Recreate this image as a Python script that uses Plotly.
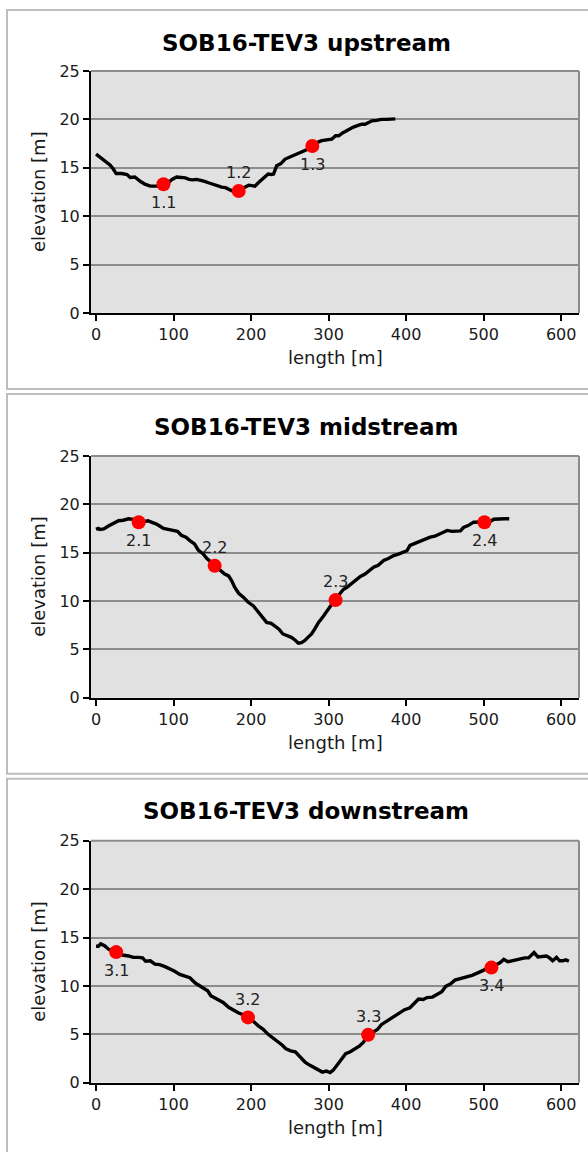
import plotly.graph_objects as go

# ---------------- data ----------------
titles = ["SOB16-TEV3 upstream", "SOB16-TEV3 midstream", "SOB16-TEV3 downstream"]

up_x = [0, 6, 12, 18, 22, 26, 33, 40, 44, 50, 57, 63, 70, 76, 82, 88, 94, 98, 104, 110, 115, 120, 124, 130,
        134, 140, 145, 150, 156, 162, 167, 172, 176, 180, 184, 190, 197, 201, 205, 210, 214, 218, 222, 226, 229,
        233, 238, 244, 250, 257, 262, 268, 273, 279, 285, 291, 298, 304, 309, 313, 318, 322, 326, 332, 339, 343,
        347, 352, 356, 362, 368, 375, 381, 386]
up_y = [16.4, 16.0, 15.6, 15.3, 14.9, 14.4, 14.4, 14.3, 14.0, 14.05, 13.6, 13.3, 13.1, 13.1, 13.1, 13.3, 13.5,
        13.8, 14.05, 14.0, 13.95, 13.8, 13.75, 13.8, 13.75, 13.6, 13.45, 13.3, 13.1, 13.0, 12.95, 12.8, 12.6,
        12.6, 12.6, 12.9, 13.2, 13.15, 13.1, 13.5, 13.8, 14.1, 14.35, 14.3, 14.35, 15.2, 15.4, 15.9, 16.1, 16.3,
        16.5, 16.75, 16.9, 17.25, 17.6, 17.8, 17.9, 17.95, 18.3, 18.3, 18.6, 18.8, 18.9, 19.2, 19.4, 19.5, 19.5,
        19.7, 19.85, 19.9, 20.0, 20.0, 20.05, 20.05]
up_pts_x = [87, 184, 279]
up_pts_y = [13.3, 12.6, 17.25]
up_labels = ["1.1", "1.2", "1.3"]
up_label_side = [-1, 1, -1]

mid_x = [0, 3, 5, 10, 16, 22, 29, 35, 42, 48, 55, 61, 67, 73, 78, 83, 87, 93, 100, 105, 110, 116, 121, 127,
         132, 138, 143, 148, 153, 160, 166, 171, 175, 179, 184, 190, 196, 203, 209, 215, 220, 226, 231, 236,
         241, 247, 252, 257, 261, 265, 269, 274, 278, 282, 287, 293, 298, 303, 308, 314, 319, 324, 331, 336,
         341, 347, 352, 358, 364, 371, 377, 384, 390, 397, 401, 405, 411, 418, 424, 431, 437, 444, 448, 453,
         459, 465, 470, 474, 480, 487, 495, 502, 508, 513, 520, 527, 533]
mid_y = [17.4, 17.5, 17.4, 17.45, 17.75, 18.0, 18.3, 18.35, 18.5, 18.45, 18.15, 18.2, 18.3, 18.1, 17.95, 17.7,
         17.5, 17.4, 17.3, 17.2, 16.8, 16.6, 16.25, 15.9, 15.25, 14.9, 14.4, 14.0, 13.7, 13.2, 12.8, 12.6,
         12.1, 11.4, 10.8, 10.4, 9.9, 9.5, 8.9, 8.4, 7.8, 7.7, 7.45, 7.1, 6.6, 6.45, 6.25, 5.95, 5.65, 5.7,
         5.9, 6.3, 6.6, 7.1, 7.8, 8.4, 9.0, 9.6, 10.1, 10.7, 11.2, 11.45, 11.9, 12.2, 12.55, 12.8, 13.1, 13.5,
         13.7, 14.2, 14.4, 14.7, 14.85, 15.05, 15.2, 15.75, 15.95, 16.1, 16.3, 16.6, 16.7, 16.95, 17.1, 17.3,
         17.2, 17.2, 17.25, 17.6, 17.8, 18.15, 18.15, 18.15, 18.2, 18.45, 18.5, 18.5, 18.5]
mid_pts_x = [55, 153, 309, 501]
mid_pts_y = [18.15, 13.65, 10.1, 18.15]
mid_labels = ["2.1", "2.2", "2.3", "2.4"]
mid_label_side = [-1, 1, 1, -1]

down_x = [0, 3, 6, 11, 16, 21, 27, 34, 42, 48, 55, 60, 64, 70, 76, 82, 89, 95, 102, 108, 115, 121, 128, 134,
          139, 144, 148, 153, 158, 164, 171, 178, 184, 189, 195, 202, 209, 216, 222, 227, 234, 240, 245, 251,
          257, 263, 270, 276, 281, 287, 292, 297, 302, 306, 311, 317, 322, 328, 334, 340, 345, 351, 357, 363,
          368, 374, 380, 386, 392, 398, 405, 410, 416, 422, 427, 434, 440, 446, 451, 457, 463, 470, 478, 485,
          491, 498, 505, 510, 516, 521, 526, 531, 536, 542, 547, 553, 558, 562, 565, 570, 576, 581, 585, 589,
          594, 598, 602, 606, 610]
down_y = [14.1, 14.1, 14.35, 14.15, 13.8, 13.6, 13.5, 13.2, 13.1, 12.95, 12.95, 12.9, 12.55, 12.6, 12.25,
          12.2, 12.0, 11.8, 11.5, 11.2, 11.0, 10.85, 10.3, 10.0, 9.8, 9.5, 9.0, 8.75, 8.5, 8.3, 7.8, 7.45, 7.2,
          7.05, 6.75, 6.4, 5.9, 5.5, 5.0, 4.7, 4.3, 3.9, 3.5, 3.3, 3.2, 2.7, 2.1, 1.8, 1.55, 1.3, 1.1, 1.2, 1.05,
          1.3, 1.8, 2.5, 3.0, 3.2, 3.5, 3.8, 4.2, 4.9, 5.2, 5.5, 6.0, 6.3, 6.7, 7.0, 7.3, 7.55, 7.75, 8.2, 8.65,
          8.6, 8.8, 8.85, 9.1, 9.4, 9.95, 10.2, 10.6, 10.75, 10.9, 11.1, 11.3, 11.55, 11.75, 11.9, 12.2, 12.4,
          12.75, 12.5, 12.6, 12.75, 12.85, 12.9, 12.9, 13.2, 13.45, 13.0, 13.05, 13.1, 12.9, 12.6, 12.95, 12.6,
          12.6, 12.7, 12.55]
down_pts_x = [26, 196, 351, 510]
down_pts_y = [13.5, 6.75, 4.95, 11.9]
down_labels = ["3.1", "3.2", "3.3", "3.4"]
down_label_side = [-1, 1, 1, -1]

x_ticks = [0, 100, 200, 300, 400, 500, 600]
y_ticks = [0, 5, 10, 15, 20, 25]
x_title = "length [m]"
y_title = "elevation [m]"

# ---------------- layout geometry (target pixel positions) ----------------
W = 588
H = 1170
V_OFF, V_SCALE = 8.0, 0.984   # observed page placement of the figure
FONT = "DejaVu Sans"
plot_left, plot_right = 91, 579
plot_tops = [70, 455, 840]
plot_bottoms = [312, 697, 1082]
box_tops = [8, 393, 778]
box_bottoms = [388, 773, 1180]
title_ys = [42, 426, 810]
xtitle_ys = [357, 742, 1127]


def px(x):
    return x / W


def py(y):
    return 1 - ((y - V_OFF) / V_SCALE) / H


series = [
    (up_x, up_y, up_pts_x, up_pts_y, up_labels, up_label_side),
    (mid_x, mid_y, mid_pts_x, mid_pts_y, mid_labels, mid_label_side),
    (down_x, down_y, down_pts_x, down_pts_y, down_labels, down_label_side),
]

fig = go.Figure()
shapes = []
annotations = []
layout_axes = {}

for i, (lx, ly, ptx, pty, lab, lside) in enumerate(series):
    n = "" if i == 0 else str(i + 1)
    xa, ya = "x" + n, "y" + n
    fig.add_trace(go.Scatter(x=lx, y=ly, mode="lines", xaxis=xa, yaxis=ya,
                             line=dict(color="black", width=3.4), hoverinfo="skip",
                             showlegend=False))
    fig.add_trace(go.Scatter(x=ptx, y=pty, mode="markers", xaxis=xa, yaxis=ya,
                             marker=dict(color="#ff0000", size=14, line=dict(width=0)),
                             showlegend=False))
    for xv, yv, t, s in zip(ptx, pty, lab, lside):
        annotations.append(dict(text=t, x=xv, y=yv, xref=xa, yref=ya, showarrow=False,
                                xanchor="center", yanchor="middle", yshift=18.3 * s,
                                font=dict(family=FONT, size=16, color="#222222")))
    common_font = dict(family=FONT, size=16, color="#1a1a1a")
    layout_axes["xaxis" + n] = dict(
        domain=[px(plot_left), px(plot_right)], anchor=ya, range=[-6.5, 623],
        tickmode="array", tickvals=x_ticks, ticks="outside", ticklen=6, tickwidth=1.5,
        tickcolor="black", showline=True, linecolor="black", linewidth=2,
        showgrid=False, zeroline=False, tickfont=common_font, fixedrange=True)
    layout_axes["yaxis" + n] = dict(
        domain=[py(plot_bottoms[i]), py(plot_tops[i])], anchor=xa, range=[0, 25],
        tickmode="array", tickvals=y_ticks, ticks="outside", ticklen=6, tickwidth=1.5,
        tickcolor="black", showline=True, linecolor="black", linewidth=2,
        showgrid=True, gridcolor="#8c8c8c", gridwidth=1.5, zeroline=False,
        tickfont=common_font, fixedrange=True)
    # panel box
    shapes.append(dict(type="rect", xref="paper", yref="paper",
                       x0=px(7), x1=px(620), y0=py(box_bottoms[i]), y1=min(py(box_tops[i]), 0.9992),
                       line=dict(color="#bdbdbd", width=2), fillcolor="rgba(0,0,0,0)",
                       layer="below"))
    # top and right gray plot borders
    shapes.append(dict(type="line", xref=xa + " domain", yref=ya + " domain",
                       x0=0, x1=1, y0=1, y1=1, line=dict(color="#8c8c8c", width=2)))
    shapes.append(dict(type="line", xref=xa + " domain", yref=ya + " domain",
                       x0=1, x1=1, y0=0, y1=1, line=dict(color="#8c8c8c", width=2)))
    annotations.append(dict(text="<b>" + titles[i] + "</b>", xref="paper", yref="paper",
                            x=px(306), y=py(title_ys[i]), xanchor="center", yanchor="middle",
                            showarrow=False, font=dict(family=FONT, size=23, color="black")))
    annotations.append(dict(text=x_title, xref="paper", yref="paper",
                            x=px((plot_left + plot_right) / 2), y=py(xtitle_ys[i]),
                            xanchor="center", yanchor="middle", showarrow=False,
                            font=dict(family=FONT, size=18, color="#1a1a1a")))
    annotations.append(dict(text=y_title, xref="paper", yref="paper",
                            x=px(39), y=py((plot_tops[i] + plot_bottoms[i]) / 2),
                            xanchor="center", yanchor="middle", textangle=-90,
                            showarrow=False, font=dict(family=FONT, size=18, color="#1a1a1a")))

fig.update_layout(
    width=W, height=H, margin=dict(l=0, r=0, t=0, b=0),
    paper_bgcolor="white", plot_bgcolor="#e1e1e1",
    shapes=shapes, annotations=annotations, showlegend=False,
    **layout_axes,
)

fig.write_html("out.html", config={"displayModeBar": False})
